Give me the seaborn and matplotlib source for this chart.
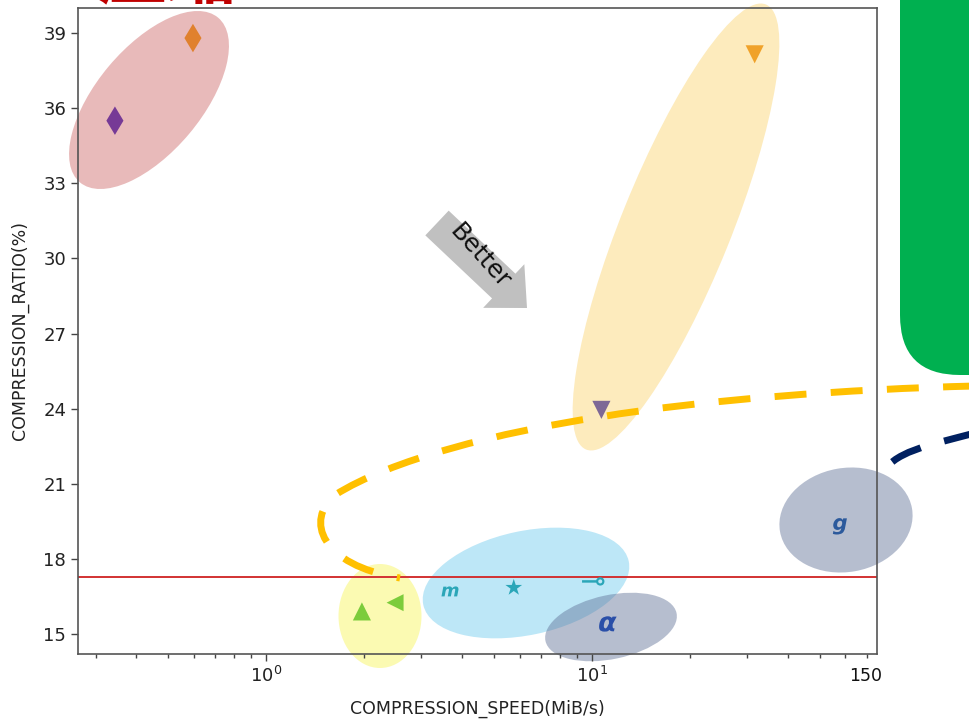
import matplotlib
matplotlib.use('Agg')
import matplotlib.pyplot as plt
import pandas as pd
import seaborn as sns
from matplotlib.patches import Ellipse, FancyArrow, FancyBboxPatch, PathPatch
from matplotlib.path import Path

# ----------------------------------------------------------------------------------------------------------------------
# Data

names = ['p_diamond', 'o_diamond', 'o_tri_down', 'p_tri_down', 'g_tri_up', 'g_tri_left',
         'm', 'star', 'lollipop', 'alpha', 'g']
speed = [0.344, 0.597, 31.6, 10.7, 1.97, 2.49, 3.67, 5.76, 10.1, 11.2, 57.7]      # MiB/s
ratio = [35.5, 38.8, 38.15, 23.95, 15.9, 16.25, 16.7, 16.85, 17.1, 15.4, 19.3]    # %
markers = ['d', 'd', 'v', 'v', '^', '<', r'$\boldsymbol{m}$', '*', r'$\multimap$',
           r'$\boldsymbol{\alpha}$', r'$\boldsymbol{g}$']
colors = ['#763a96', '#e0812e', '#f0a22a', '#7e6896', '#7ccc3c', '#7ccc3c',
          '#2ba6b8', '#2ba6b8', '#2ba6b8', '#2a4fa8', '#2c5a9c']
sizes = [210, 210, 170, 170, 170, 150, 150, 160, 260, 160, 140]

baseline = 17.27
y_ticks = [15, 18, 21, 24, 27, 30, 33, 36, 39]

df = pd.DataFrame({'speed': speed, 'ratio': ratio, 'algo': names})

# ----------------------------------------------------------------------------------------------------------------------
# Figure

sns.set_theme(style='ticks')
plt.rcParams['font.family'] = ['DejaVu Sans', 'Noto Sans CJK SC']

W, H = 970, 728
fig = plt.figure(figsize=(W / 100, H / 100), dpi=100)
fig.patch.set_facecolor('white')

# background layer (pixel coords, y up) for the highlight ellipses
bg = fig.add_axes([0, 0, 1, 1], zorder=0)
bg.set_xlim(0, W)
bg.set_ylim(0, H)
bg.axis('off')


def px(x, y):
    return x, H - y


# (center x, center y, width, height, angle, color, alpha)
ellipses = [
    (149, 100, 215, 105, 50, '#e8baba', 1.0),
    (676, 227, 480, 110, 68, '#fdebbd', 1.0),
    (380, 616, 83, 104, 0, '#fbfab2', 1.0),
    (526, 583, 210, 104, 12, '#bde7f7', 1.0),
    (611, 627, 134, 64, 12, '#5f7096', 0.45),
    (846, 520, 134, 104, 10, '#5f7096', 0.45),
]
for cx, cy, w, h, ang, col, a in ellipses:
    bg.add_patch(Ellipse(px(cx, cy), w, h, angle=ang, facecolor=col, alpha=a, lw=0))

# main axes
ax = fig.add_axes([78 / W, 1 - 654 / H, (877 - 78) / W, (654 - 8) / H], zorder=1)
ax.patch.set_alpha(0)

sns.scatterplot(data=df, x='speed', y='ratio', hue='algo', style='algo', size='algo',
                palette=dict(zip(names, colors)), markers=dict(zip(names, markers)),
                sizes=dict(zip(names, sizes)), linewidth=0, legend=False, ax=ax, zorder=3)

ax.axhline(baseline, color='#d23232', lw=1.4, zorder=2)

ax.set_xscale('log')
ax.set_xlim(0.265, 75)
ax.set_ylim(14.2, 40.0)
ax.set_yticks(y_ticks)
ax.set_xlabel('COMPRESSION_SPEED(MiB/s)', fontsize=12.5, labelpad=10, color='#222222')
ax.set_ylabel('COMPRESSION_RATIO(%)', fontsize=12.5, labelpad=10, color='#222222')
ax.tick_params(axis='both', which='major', labelsize=13, length=5, width=1, colors='#444444',
               labelcolor='#222222')
ax.tick_params(axis='x', which='minor', length=3, width=1, colors='#444444')
for s in ax.spines.values():
    s.set_visible(True)
    s.set_color('#555555')
    s.set_linewidth(1.2)

# foreground layer: dashed callouts, green panel, "Better" arrow
fg = fig.add_axes([0, 0, 1, 1], zorder=2)
fg.set_xlim(0, W)
fg.set_ylim(0, H)
fg.axis('off')
fg.patch.set_alpha(0)

fg.add_patch(FancyBboxPatch(px(900, 375), 300, 500, boxstyle='round,pad=0,rounding_size=60',
                            facecolor='#00b050', lw=0))

dash = (0, (4.6, 3.5))
orange_pts = [(975, 386), (850, 389), (700, 400), (600, 417),
              (500, 432), (390, 460), (335, 495),
              (305, 520), (320, 565), (400, 578)]
orange_codes = [Path.MOVETO] + [Path.CURVE4] * 9
fg.add_patch(PathPatch(Path([px(*p) for p in orange_pts], orange_codes), facecolor='none',
                       edgecolor='#ffc000', lw=5, linestyle=dash, capstyle='butt'))

navy_pts = [(975, 433), (930, 445), (890, 452), (882, 476)]
fg.add_patch(PathPatch(Path([px(*p) for p in navy_pts], [Path.MOVETO] + [Path.CURVE4] * 3),
                       facecolor='none', edgecolor='#002060', lw=5, linestyle=dash,
                       capstyle='butt'))

tx, ty = px(437, 223)
fg.add_patch(FancyArrow(tx, ty, 90, -85, width=34, head_width=60, head_length=32,
                        length_includes_head=True, facecolor='#c0c0c0', lw=0))
fg.text(*px(480, 256), 'Better', rotation=-48, fontsize=18, ha='center', va='center',
        rotation_mode='anchor', color='#111111')

fg.text(*px(866, 676), '150', fontsize=12.5, ha='center', va='center', color='#111111')
# slide title above the chart, only its lower edge is in frame
fg.text(*px(98, 13), '压缩', fontsize=50, fontweight='bold', color='#c00000',
        ha='left', va='bottom', family=['Noto Sans CJK SC', 'DejaVu Sans'])

fig.savefig('out.png', dpi=100, facecolor='white')
